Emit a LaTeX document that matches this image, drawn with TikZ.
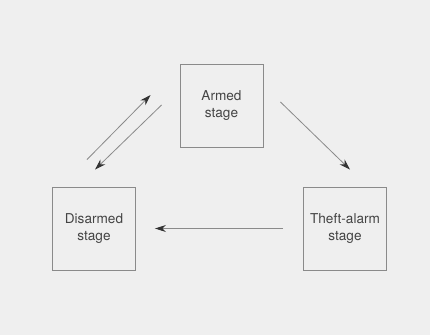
\documentclass[tikz,border=0pt]{standalone}
\usepackage{fontspec}
\setmainfont{TeX Gyre Heros}
\usetikzlibrary{arrows.meta,calc}
\definecolor{bggray}{HTML}{EFEFEF}
\definecolor{linegray}{HTML}{8A8A8A}
\definecolor{tipgray}{HTML}{333333}
\definecolor{textgray}{HTML}{444444}
\tikzset{
    %Define standard arrow tip
    >={Stealth[length=11pt,width=7pt,color=tipgray]},
    stage/.style={
      rectangle,
      draw=linegray, line width=0.9pt,
      minimum width=83pt,
      minimum height=83pt,
      align=center,
      text=textgray,
      font=\fontsize{13.6}{17}\selectfont},
    trans/.style={
      ->,
      draw=linegray, line width=0.8pt},
}
\begin{document}
\begin{tikzpicture}[x=1pt,y=-1pt]
    \fill[bggray] (0,0) rectangle (430,335);
    \node (armed) [stage] at (221.5,106)
          {Armed\\stage};
    \node (disarmed) [stage] at (94,228.5)
          {Disarmed\\stage};
    \node (theft) [stage] at (345,228.5)
          {Theft-alarm\\stage};
    \draw [trans] ($(disarmed.north)+(-7,-27)$) -- ($(armed.west)+(-29,-11)$);
    \draw [trans] ($(armed.west)+(-18,-1)$) -- ($(disarmed.north)+(1,-17)$);
    \draw [trans] ($(armed.east)+(17,-4)$) -- ($(theft.north)+(5,-17)$);
    \draw [trans] ($(theft.west)+(-20,0)$) -- ($(disarmed.east)+(19,0)$);
\end{tikzpicture}
\end{document}
